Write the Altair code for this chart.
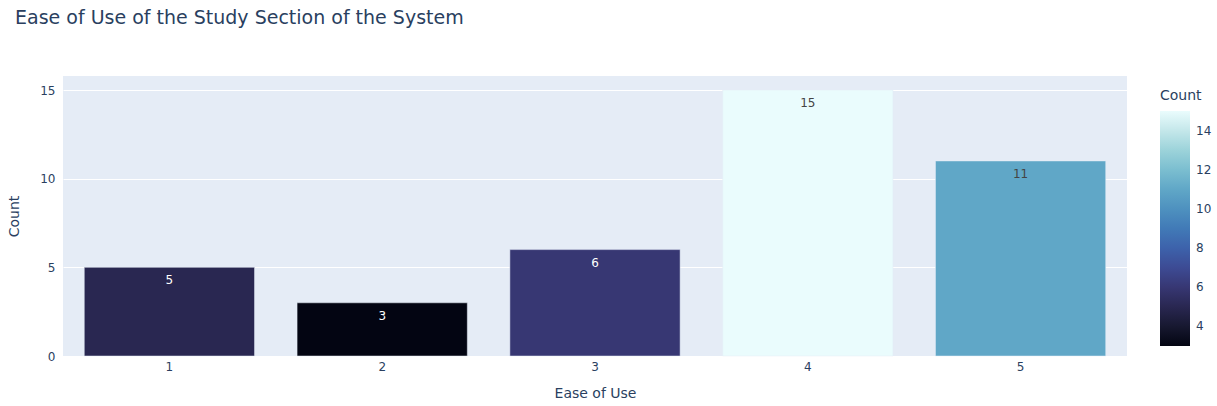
import altair as alt
import pandas as pd

ease = ["1", "2", "3", "4", "5"]
counts = [5, 3, 6, 15, 11]

ice = ["rgb(3, 5, 18)", "rgb(25, 25, 51)", "rgb(44, 42, 87)", "rgb(58, 60, 125)",
       "rgb(62, 83, 160)", "rgb(62, 109, 178)", "rgb(72, 134, 187)", "rgb(89, 159, 196)",
       "rgb(114, 184, 205)", "rgb(149, 207, 216)", "rgb(192, 229, 232)", "rgb(234, 252, 253)"]

df = pd.DataFrame({"Ease of Use": ease, "Count": counts})

FONT = "DejaVu Sans"
TXT = "#2a3f5f"

x = alt.X("Ease of Use:O",
          scale=alt.Scale(paddingInner=0.2, paddingOuter=0.1),
          axis=alt.Axis(labelAngle=0, ticks=False, domain=False, grid=False,
                        labelPadding=5, titlePadding=14, titleFontSize=14,
                        titleFontWeight="normal", labelFontSize=12,
                        labelColor=TXT, titleColor=TXT, labelFont=FONT, titleFont=FONT))
y = alt.Y("Count:Q",
          scale=alt.Scale(domain=[0, 15.79], nice=False, zero=True),
          axis=alt.Axis(values=[0, 5, 10, 15], ticks=False, domain=False, grid=True,
                        gridColor="white", gridWidth=1, labelPadding=8,
                        titlePadding=18, titleFontSize=14, titleFontWeight="normal",
                        labelFontSize=12, labelColor=TXT, titleColor=TXT,
                        labelFont=FONT, titleFont=FONT))

bars = alt.Chart(df).mark_bar(stroke="#E5ECF6", strokeWidth=0.5).encode(
    x=x, y=y,
    color=alt.Color("Count:Q",
                    scale=alt.Scale(domain=[3, 15], range=ice, type="linear", nice=False),
                    legend=alt.Legend(orient="none", legendX=1097, legendY=13,
                                      gradientLength=235, gradientThickness=30,
                                      gradientStrokeWidth=0, values=[4, 6, 8, 10, 12, 14],
                                      title="Count", titleFontSize=14, titleFontWeight="normal",
                                      titleColor=TXT, titleFont=FONT, labelFont=FONT,
                                      labelFontSize=12, labelColor=TXT, labelOffset=6,
                                      titlePadding=8, tickCount=6))
)

labels = alt.Chart(df).mark_text(baseline="top", dy=8, fontSize=12, font=FONT).encode(
    x=x, y=y, text="Count:Q",
    color=alt.condition("datum.Count > 9", alt.value("#444444"), alt.value("white"))
)

chart = (bars + labels).properties(
    width=1064, height=280,
    title=alt.TitleParams("Ease of Use of the Study Section of the System", anchor="start",
                          frame="group", fontSize=19, fontWeight="normal", color=TXT, font=FONT,
                          dx=-48, baseline="alphabetic", offset=33),
    autosize=alt.AutoSizeParams(type="none"),
    padding={"left": 63, "top": 76, "right": 90, "bottom": 50},
    background="white",
).configure_view(fill="#E5ECF6", stroke=None)

chart.save("out.html", embed_options={"renderer": "svg", "actions": False})
